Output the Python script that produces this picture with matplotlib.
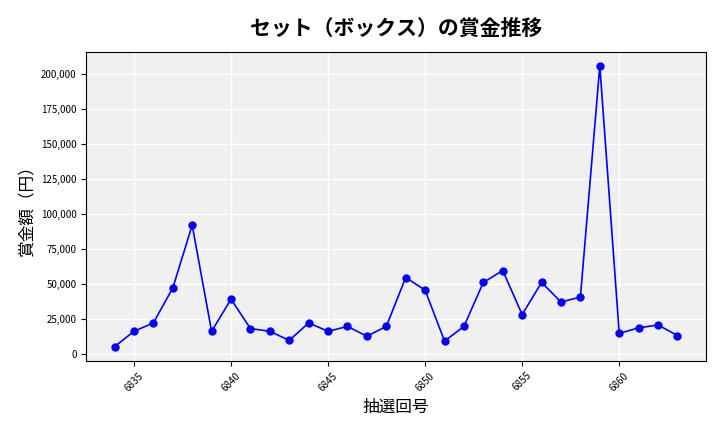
import matplotlib
matplotlib.use("Agg")
import matplotlib.pyplot as plt
from matplotlib.ticker import FuncFormatter

plt.rcParams['font.family'] = ['Noto Sans CJK JP', 'DejaVu Sans']

draws = list(range(6834, 6864))
prizes = [5000, 16000, 22000, 47000, 92000, 16000, 39000, 18000, 16000, 9500,
          22000, 16000, 19500, 12500, 19500, 54500, 45500, 9000, 19500, 51000,
          59500, 28000, 51000, 37000, 40500, 206000, 14500, 18500, 20500, 13000]

fig, ax = plt.subplots(figsize=(7.2, 4.32), dpi=100)
fig.subplots_adjust(left=0.12, right=0.98, top=0.88, bottom=0.165)
ax.set_facecolor('#f0f0f0')
ax.grid(True, color='white', linewidth=1)
ax.set_axisbelow(True)
ax.plot(draws, prizes, color='blue', marker='o', markersize=5, linewidth=1.2)
ax.set_xticks(range(6835, 6865, 5))
ax.tick_params(axis='x', labelrotation=45, labelsize=7)
ax.tick_params(axis='y', labelsize=7)
ax.yaxis.set_major_formatter(FuncFormatter(lambda v, p: f"{int(v):,}"))
ax.set_title('セット（ボックス）の賞金推移', fontsize=15, fontweight='bold', pad=12)
ax.set_xlabel('抽選回号', fontsize=12)
ax.set_ylabel('賞金額（円）', fontsize=12)
fig.savefig('out.png')
